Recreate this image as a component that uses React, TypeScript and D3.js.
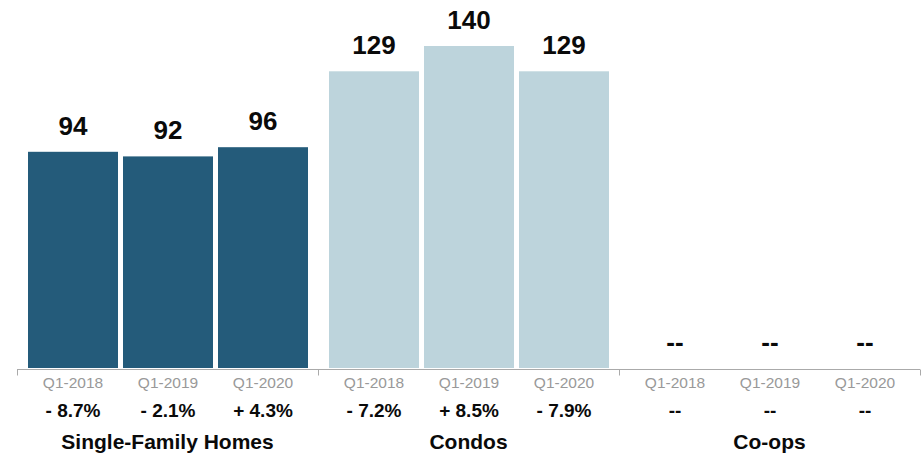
import React from "react";
import * as d3 from "d3";

const groups = ["Single-Family Homes", "Condos", "Co-ops"];
const periods = ["Q1-2018", "Q1-2019", "Q1-2020"];
const singleFamily = [94, 92, 96];
const condos = [129, 140, 129];
const coops: (number | null)[] = [null, null, null];
const sfChange = ["- 8.7%", "- 2.1%", "+ 4.3%"];
const condoChange = ["- 7.2%", "+ 8.5%", "- 7.9%"];
const coopChange = ["--", "--", "--"];

const series = [singleFamily, condos, coops];
const changes = [sfChange, condoChange, coopChange];
const colors = ["#245b7a", "#bdd4dc", "#bdd4dc"];

const W = 923;
const H = 457;
const FONT = "'Liberation Sans', Arial, Helvetica, sans-serif";

export default function App() {
  const x0 = d3.scaleBand<string>().domain(groups).range([17, 920]).padding(0);
  const gw = x0.bandwidth();
  const x1 = d3
    .scaleBand<string>()
    .domain(periods)
    .range([11, gw - 10])
    .paddingInner(5 / 95)
    .paddingOuter(0);
  const y = d3.scaleLinear().domain([0, 160]).range([368, 0]);
  const axisY = 369.5;

  return (
    <svg
      width={W}
      height={H}
      style={{ position: "absolute", left: 0, top: 0 }}
      fontFamily={FONT}
    >
      <rect x={0} y={0} width={W} height={H} fill="#ffffff" />
      {groups.map((g, gi) => {
        const gx = x0(g)!;
        return (
          <g key={g} transform={`translate(${gx},0)`}>
            {periods.map((p, pi) => {
              const v = series[gi][pi];
              const bx = x1(p)!;
              const cx = bx + x1.bandwidth() / 2;
              const top = v == null ? y(0) : y(v);
              return (
                <g key={p}>
                  {v != null && (
                    <rect
                      x={bx}
                      y={top}
                      width={x1.bandwidth()}
                      height={y(0) - top}
                      fill={colors[gi]}
                    />
                  )}
                  <text
                    x={cx}
                    y={top - 17}
                    textAnchor="middle"
                    fontSize={26}
                    fontWeight="bold"
                    fill="#0a0a0a"
                  >
                    {v == null ? "--" : String(v)}
                  </text>
                  <text
                    x={cx}
                    y={388}
                    textAnchor="middle"
                    fontSize={15.5}
                    fill="#999"
                  >
                    {p}
                  </text>
                  <text
                    x={cx}
                    y={417}
                    textAnchor="middle"
                    fontSize={19}
                    fontWeight="bold"
                    fill="#0a0a0a"
                  >
                    {changes[gi][pi]}
                  </text>
                </g>
              );
            })}
            <text
              x={gw / 2}
              y={449}
              textAnchor="middle"
              fontSize={21}
              fontWeight="bold"
              fill="#0a0a0a"
            >
              {g}
            </text>
          </g>
        );
      })}
      <line x1={17} x2={920} y1={axisY} y2={axisY} stroke="#aaa" strokeWidth={1} />
      {[...groups.map((g) => x0(g)!), 920].map((t, i) => (
        <line
          key={i}
          x1={Math.round(t) + 0.5}
          x2={Math.round(t) + 0.5}
          y1={axisY}
          y2={axisY + 6}
          stroke="#aaa"
          strokeWidth={1}
        />
      ))}
    </svg>
  );
}
